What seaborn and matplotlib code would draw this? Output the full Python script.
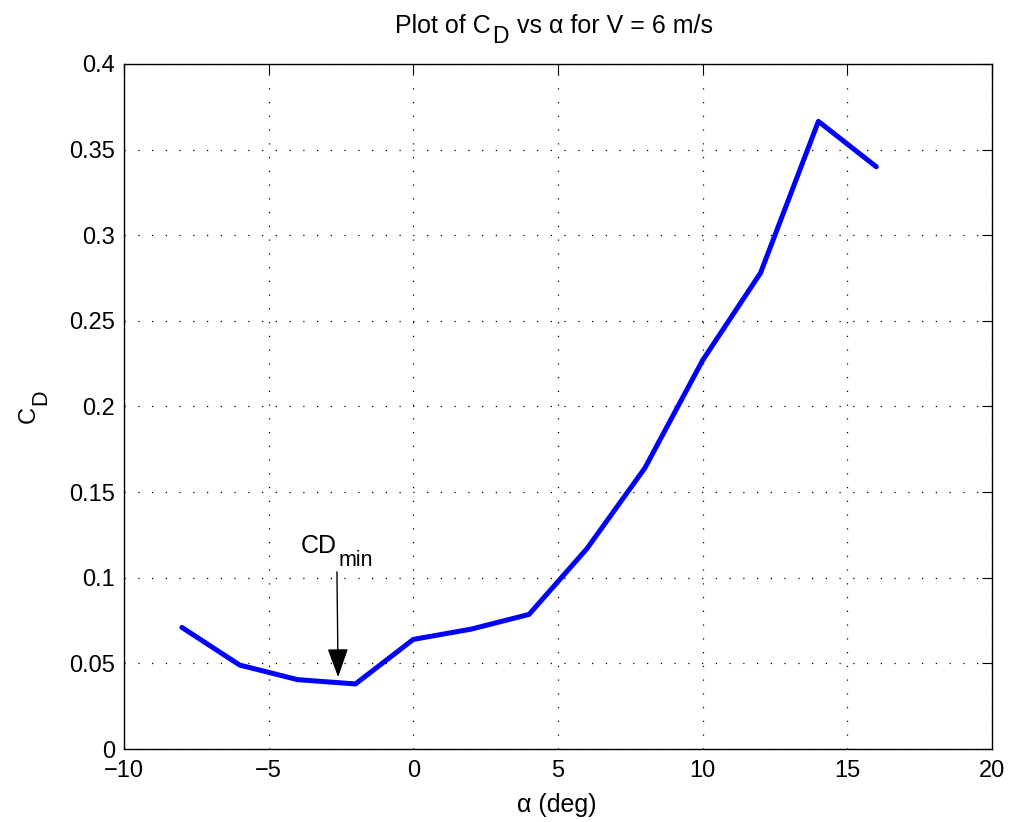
import numpy as np
import pandas as pd
import matplotlib
matplotlib.use("Agg")
import matplotlib.pyplot as plt
from matplotlib.transforms import offset_copy
import seaborn as sns

# 받음각(deg) 과 항력계수
alpha = [-8, -6, -4, -2, 0, 2, 4, 6, 8, 10, 12, 14, 16]
cd = [0.071, 0.049, 0.0405, 0.038, 0.064, 0.070, 0.0786, 0.117, 0.164, 0.227, 0.278, 0.3665, 0.340]

xticks = [-10, -5, 0, 5, 10, 15, 20]
xticklabels = ["\u221210", "\u22125", "0", "5", "10", "15", "20"]
yticks = [0, 0.05, 0.1, 0.15, 0.2, 0.25, 0.3, 0.35, 0.4]
yticklabels = ["0", "0.05", "0.1", "0.15", "0.2", "0.25", "0.3", "0.35", "0.4"]

df = pd.DataFrame({"alpha": alpha, "CD": cd})

sns.set_style("white")
plt.rcParams["font.family"] = ["Liberation Sans", "DejaVu Sans"]
plt.rcParams["text.color"] = "black"
plt.rcParams["xtick.color"] = "black"
plt.rcParams["ytick.color"] = "black"
plt.rcParams["xtick.labelcolor"] = "black"
plt.rcParams["ytick.labelcolor"] = "black"

W, H = 1017, 822
fig = plt.figure(figsize=(W / 100, H / 100), dpi=100)
ax = fig.add_axes([124 / W, 1 - 749 / H, 868 / W, 685 / H])

sns.lineplot(data=df, x="alpha", y="CD", color="#0000ff", linewidth=3.6, ax=ax)

ax.set_xlim(-10, 20)
ax.set_ylim(0, 0.4)
ax.set_xticks(xticks)
ax.set_yticks(yticks)
ax.set_xticklabels(xticklabels)
ax.set_yticklabels(yticklabels)
ax.set_xlabel("")
ax.set_ylabel("")
ax.grid(True, linestyle=(0, (1, 10)), color="black", linewidth=0.9)
ax.tick_params(direction="in", length=7, labelsize=17, top=True, right=True,
               labeltop=False, labelright=False, color="black")
ax.tick_params(axis="x", pad=8)
ax.tick_params(axis="y", pad=6.5)
for s in ax.spines.values():
    s.set_linewidth(1.0)
    s.set_color("black")


# 아래첨자를 MATLAB 처럼 크게/아래로 그리기 위한 함수
def rich_text(x, y, pieces, transform, ha="left", rotation=0):
    r = fig.canvas.get_renderer()
    arts, sizes = [], []
    for s, fs, shift, gap in pieces:
        t = fig.text(x, y, s, fontsize=fs, transform=transform, rotation=rotation,
                     ha="left", va="baseline", rotation_mode="anchor")
        bb = t.get_window_extent(r)
        sizes.append((bb.height if rotation else bb.width) + gap)
        arts.append((t, shift, gap))
    total = sum(sizes)
    pos = -total / 2 if ha == "center" else 0
    for (t, shift, gap), sz in zip(arts, sizes):
        pos += gap
        if rotation:
            t.set_transform(offset_copy(transform, fig=fig, x=shift, y=pos, units="dots"))
        else:
            t.set_transform(offset_copy(transform, fig=fig, x=pos, y=-shift, units="dots"))
        pos += sz - gap + 1


# 제목
rich_text(553 / W, 1 - 33 / H,
          [("Plot of C", 18, 0, 0), ("D", 16.5, 10, 0), ("vs \u03b1 for V = 6 m/s", 18, 0, 7)],
          fig.transFigure, ha="center")
# y 라벨
rich_text(35 / W, 1 - 407 / H, [("C", 17, 0, 0), ("D", 15.5, 11, 0)],
          fig.transFigure, ha="center", rotation=90)
# x 라벨
fig.text(557 / W, 1 - 812 / H, "\u03b1 (deg)", fontsize=18, ha="center", va="baseline")

# CD_min 주석
ax.annotate("", xy=(-2.60, 0.042), xytext=(-2.64, 0.1034),
            arrowprops=dict(arrowstyle="-|>,head_length=0.72,head_width=0.26",
                            color="black", lw=1.0, mutation_scale=25,
                            shrinkA=0, shrinkB=0))
rich_text(-3.88, 0.1145, [("CD", 18, 0, 0), ("min", 15.5, 13, 0)], ax.transData)

fig.savefig("out.png", dpi=100)
